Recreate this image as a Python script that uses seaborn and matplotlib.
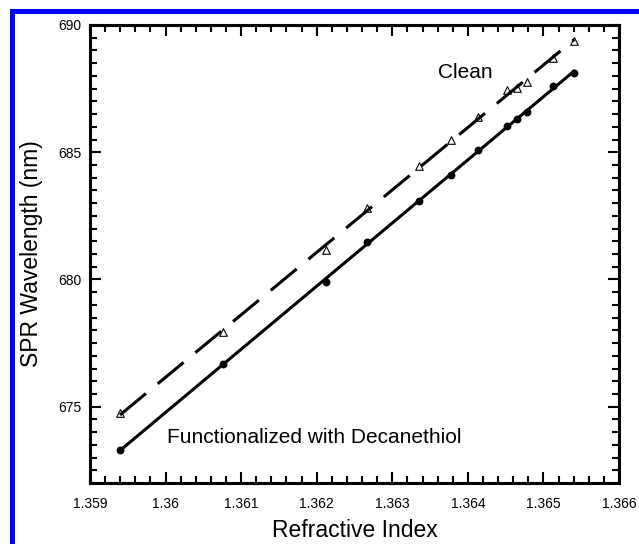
import numpy as np
import matplotlib
matplotlib.use("Agg")
import matplotlib.pyplot as plt
from matplotlib.ticker import MultipleLocator, FixedLocator, FixedFormatter
from matplotlib.patches import Rectangle
import seaborn as sns

# ---- data ----
refractive_index = [1.359397, 1.360756, 1.362123, 1.362669, 1.363357, 1.363773,
                    1.364138, 1.364514, 1.364654, 1.364779, 1.365123, 1.365409]
clean_nm = [674.74, 677.94, 681.16, 682.79, 684.47, 685.48,
            686.37, 687.44, 687.51, 687.77, 688.69, 689.38]
decanethiol_nm = [673.30, 676.66, 679.91, 681.48, 683.09, 684.10,
                  685.09, 686.03, 686.32, 686.58, 687.60, 688.10]
x_ticks = [1.359, 1.360, 1.361, 1.362, 1.363, 1.364, 1.365, 1.366]
x_tick_labels = ["1.359", "1.36", "1.361", "1.362", "1.363", "1.364", "1.365", "1.366"]
y_ticks = [675, 680, 685, 690]
y_tick_labels = ["675", "680", "685", "690"]

sns.set_style("ticks")
plt.rcParams["font.family"] = ["Liberation Sans", "DejaVu Sans"]
plt.rcParams["text.color"] = "black"
plt.rcParams["axes.labelcolor"] = "black"
plt.rcParams["xtick.color"] = "black"
plt.rcParams["ytick.color"] = "black"

fig = plt.figure(figsize=(6.39, 5.44), dpi=100)
ax = fig.add_axes([90 / 639, (544 - 483) / 544, (619 - 90) / 639, (483 - 25) / 544])

sns.regplot(x=np.array(refractive_index), y=np.array(clean_nm), ci=None, ax=ax,
            color="black", marker="^",
            scatter_kws=dict(s=30, facecolors="white", edgecolors="black", linewidths=0.8,
                             alpha=1, zorder=2),
            line_kws=dict(color="black", lw=2.2, dashes=(11, 5), zorder=3))
sns.regplot(x=np.array(refractive_index), y=np.array(decanethiol_nm), ci=None, ax=ax,
            color="black", marker="o",
            scatter_kws=dict(s=32, color="black", linewidths=0, alpha=1, zorder=4),
            line_kws=dict(color="black", lw=2.2, zorder=3))

ax.set_xlim(1.359, 1.366)
ax.set_ylim(672, 690)
ax.xaxis.set_major_locator(FixedLocator(x_ticks))
ax.xaxis.set_major_formatter(FixedFormatter(x_tick_labels))
ax.yaxis.set_major_locator(FixedLocator(y_ticks))
ax.yaxis.set_major_formatter(FixedFormatter(y_tick_labels))
ax.xaxis.set_minor_locator(MultipleLocator(0.0002))
ax.yaxis.set_minor_locator(MultipleLocator(0.5))

ax.tick_params(which="both", direction="in", top=True, right=True, color="black", width=1.5)
ax.tick_params(which="major", length=8, labelsize=10, labelcolor="black")
ax.tick_params(which="minor", length=5)
ax.tick_params(axis="x", which="major", pad=10)
ax.tick_params(axis="y", which="major", pad=6)
for s in ax.spines.values():
    s.set_visible(True)
    s.set_linewidth(2.2)
    s.set_color("black")

ax.set_xlabel("Refractive Index", fontsize=16.5, labelpad=6, color="black")
ax.set_ylabel("SPR Wavelength (nm)", fontsize=16.5, labelpad=11, color="black")

ax.text(1.363605, 687.92, "Clean", fontsize=15, ha="left", va="baseline", color="black")
ax.text(1.360019, 673.57, "Functionalized with Decanethiol", fontsize=15, ha="left",
        va="baseline", color="black")

fig.add_artist(Rectangle((11.5 / 639, -0.5), 1.5, 0.5 + (544 - 11.5) / 544,
                         transform=fig.transFigure, fill=False, edgecolor="#0000ff",
                         lw=3.6, clip_on=False))

fig.savefig("out.png", dpi=100)
